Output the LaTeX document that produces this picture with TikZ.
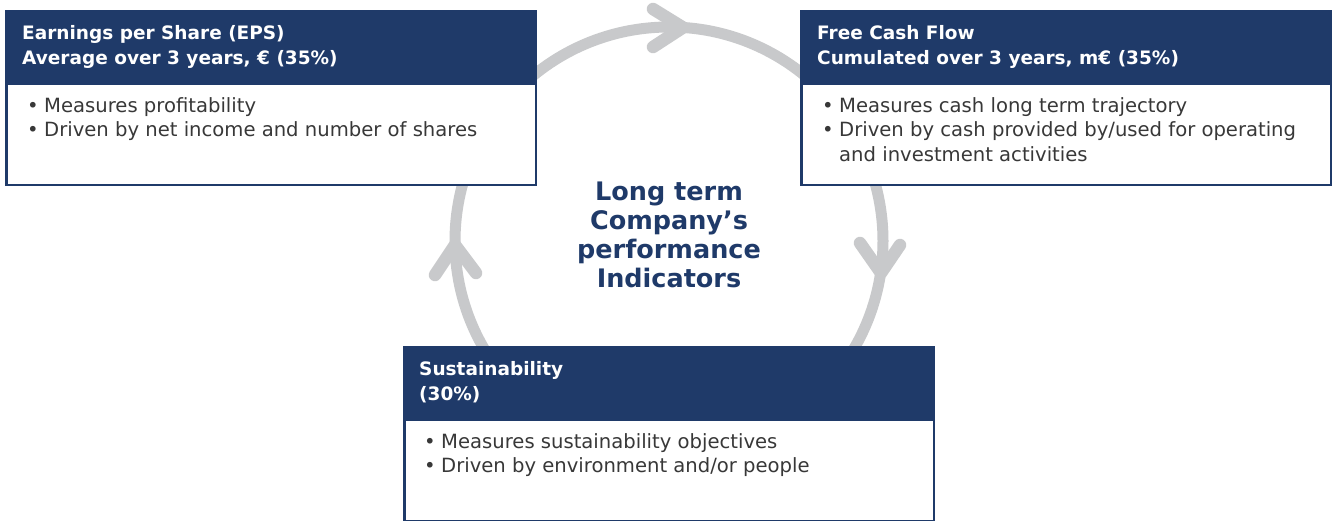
\documentclass[tikz,border=0pt]{standalone}
\usepackage{fontspec}
\setmainfont{DejaVu Sans}
\definecolor{navy}{HTML}{1F3A69}
\definecolor{arcgrey}{HTML}{C8C9CB}
\definecolor{bodyink}{HTML}{383838}
\begin{document}
\begin{tikzpicture}[x=1pt,y=-1pt,
  ring/.style={draw=arcgrey, line width=11pt},
  chevron/.style={draw=arcgrey, line width=12.5pt, line cap=round, line join=round},
  boxbody/.style={draw=navy, line width=2.5pt, fill=white, inner sep=0pt, outer sep=0pt,
    minimum width=529.5pt, minimum height=173.5pt, anchor=north west},
  boxhead/.style={fill=navy, inner sep=0pt, outer sep=0pt,
    minimum width=532pt, minimum height=75pt, anchor=north west},
  headtext/.style={text=white, anchor=base west, align=left, inner sep=0pt,
    font=\fontsize{18.5}{24.5}\selectfont\bfseries},
  bullettext/.style={text=bodyink, anchor=base west, inner sep=0pt,
    font=\fontsize{19.6}{24.5}\selectfont},
  titletext/.style={text=navy, anchor=base, align=center, inner sep=0pt,
    font=\fontsize{25.5}{29}\selectfont\bfseries}
]
\useasboundingbox (0,0) rectangle (1333,520);
\clip (0,0) rectangle (1333,520);
\fill[white] (0,0) rectangle (1333,520);

% cycle ring
\coordinate (ctr) at (669,241);
\draw[ring] (ctr) circle (214);
% arrowheads
\coordinate (tipT) at (683,27.5);
\coordinate (tT1) at (653,9);
\coordinate (tT2) at (653,47);
\draw[chevron] (tT1) -- (tipT) -- (tT2);
\coordinate (tipR) at (881,273);
\coordinate (tR1) at (860,243);
\coordinate (tR2) at (900,245);
\draw[chevron] (tR1) -- (tipR) -- (tR2);
\coordinate (tipL) at (455,245);
\coordinate (tL1) at (435,275);
\coordinate (tL2) at (476,273);
\draw[chevron] (tL1) -- (tipL) -- (tL2);

% box 1: EPS
\node[boxbody] (b1) at (6.25,11.25) {};
\node[boxhead] (h1) at (5,10) {};
\node[headtext] (h1t) at (22,64) {Earnings per Share (EPS)\\Average over 3 years, € (35\%)};
\node[bullettext] (b1t) at (27,112) {\begin{tabular}[t]{@{}p{17pt}@{}l@{}}
•&Measures profitability\\
•&Driven by net income and number of shares
\end{tabular}};

% box 2: FCF
\node[boxbody] (b2) at (801.25,11.25) {};
\node[boxhead] (h2) at (800,10) {};
\node[headtext] (h2t) at (817,64) {Free Cash Flow\\Cumulated over 3 years, m€ (35\%)};
\node[bullettext] (b2t) at (822,112) {\begin{tabular}[t]{@{}p{17pt}@{}l@{}}
•&Measures cash long term trajectory\\
•&Driven by cash provided by/used for operating\\
&and investment activities
\end{tabular}};

% box 3: Sustainability
\node[boxbody] (b3) at (404.25,347.25) {};
\node[boxhead] (h3) at (403,346) {};
\node[headtext] (h3t) at (419,400) {Sustainability\\(30\%)};
\node[bullettext] (b3t) at (424,448) {\begin{tabular}[t]{@{}p{17pt}@{}l@{}}
•&Measures sustainability objectives\\
•&Driven by environment and/or people
\end{tabular}};

% centre title
\node[titletext] (title) at (669,287) {Long term\\Company’s\\performance\\Indicators};
\end{tikzpicture}
\end{document}
